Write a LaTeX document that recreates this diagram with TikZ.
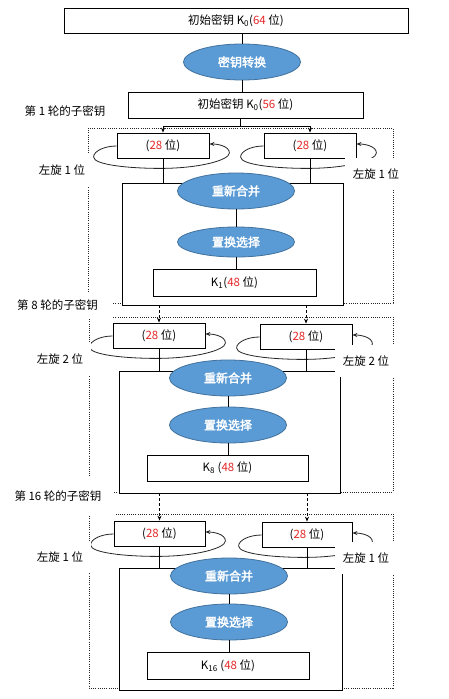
\documentclass[tikz,border=0pt]{standalone}
\usepackage{fontspec}
\setmainfont{Noto Sans CJK SC}[AutoFakeBold=2.5]
\usetikzlibrary{shapes.geometric,arrows.meta,calc}
\definecolor{ellfill}{RGB}{91,155,213}
\definecolor{elldraw}{RGB}{65,113,156}
\definecolor{numred}{RGB}{230,40,40}
\newcommand\rn[1]{\textcolor{numred}{#1}}
\newcommand\rotloop[1]{%
  \draw[loopline] ($(#1.west)+(0,0.5)$) .. controls +(-12,0) and +(0,-6) .. ($(#1.west)+(-23,11.5)$)
    .. controls +(0,8) and +(-30,0) .. ($(#1.south)+(-3,10)$)
    .. controls +(40,0) and +(0,7) .. ($(#1.east)+(20,7.5)$)
    .. controls +(0,-7) and +(8,0) .. ($(#1.east)+(0,-1.5)$);}
\tikzset{
  box/.style={draw=black, line width=0.8pt, fill=white, inner sep=0pt, font=\fontsize{11.5}{13}\selectfont},
  oval/.style={ellipse, fill=ellfill, draw=elldraw, line width=0.8pt, inner sep=0pt,
    minimum width=117pt, minimum height=36pt, text=white, font=\fontsize{12}{14}\selectfont\bfseries},
  frame/.style={line width=0.7pt, dash pattern=on 1pt off 1.2pt, draw=black!85},
  wire/.style={line width=0.8pt, draw=black},
  arr/.style={wire, -{Stealth[length=5pt,width=4pt]}},
  darr/.style={arr, dash pattern=on 3pt off 2pt},
  loopline/.style={line width=0.8pt, draw=black!85, -{Stealth[length=5pt,width=4pt]}},
  rotlabel/.style={fill=white, inner xsep=8pt, inner ysep=0pt, minimum height=32pt, font=\fontsize{11.5}{13}\selectfont},
  roundlabel/.style={fill=white, inner sep=0pt, font=\fontsize{11.5}{13}\selectfont},
}
\begin{document}
\begin{tikzpicture}[x=1pt,y=-1pt]
\useasboundingbox (0,0) rectangle (449,699);
\fill[white] (0,0) rectangle (449,699);

% dotted frames
\draw[frame] (88,128) rectangle (393,303);
\draw[frame] (89,317) rectangle (393,492);
\draw[frame] (89,514) rectangle (393,688);

% top part
\node[box, minimum width=344pt, minimum height=25pt] (k0) at (236,20.5) {初始密钥 K\textsubscript{0}(\rn{64} 位)};
\node[oval] (e0) at (242,62) {密钥转换};
\node[box, minimum width=235pt, minimum height=26pt] (b2) at (245.5,105) {初始密钥 K\textsubscript{0}(\rn{56} 位)};
\node[roundlabel] (t1) at (65,111) {第 1 轮的子密钥};
\draw[wire] (e0.north) -- (e0.north |- k0.south);
\draw[wire] (e0.south) -- (e0.south |- b2.north);

% round 1
\node[box, minimum width=221pt, minimum height=122pt] (ib1) at (232.5,244) {};
\node[box, minimum width=92pt, minimum height=25pt] (r1L) at (163,145.5) {(\rn{28} 位)};
\node[box, minimum width=92pt, minimum height=25pt] (r1R) at (310,145.5) {(\rn{28} 位)};
\coordinate (s1) at (240,126);
\draw[wire] (s1 |- b2.south) -- (s1);
\draw[arr] (s1) -| (r1L.north);
\draw[arr] (s1) -| (r1R.north);
\rotloop{r1L}
\rotloop{r1R}
\draw[wire] (r1L.south) -- (r1L.south |- ib1.north);
\draw[wire] (r1R.south) -- (r1R.south |- ib1.north);
\node[oval] (e1a) at (236,191) {重新合并};
\node[oval, minimum height=30pt] (e1b) at (236,242) {置换选择};
\node[box, minimum width=163pt, minimum height=27pt] (k1) at (234.5,282.5) {K\textsubscript{1}(\rn{48} 位)};
\draw[wire] (e1a.south) -- (e1a.south |- e1b.north);
\draw[wire] (e1b.south) -- (e1b.south |- k1.north);
\node[rotlabel] (l1a) at (62,170) {左旋 1 位};
\node[rotlabel] (l1b) at (376,174) {左旋 1 位};

% round 8
\node[box, minimum width=221pt, minimum height=122pt] (ib8) at (229.5,432) {};
\node[box, minimum width=92pt, minimum height=25pt] (r8L) at (159,335.5) {(\rn{28} 位)};
\node[box, minimum width=92pt, minimum height=25pt] (r8R) at (306,336.5) {(\rn{28} 位)};
\draw[darr] (ib1.south -| r8L.north) -- (r8L.north);
\draw[darr] (ib1.south -| r8R.north) -- (r8R.north);
\rotloop{r8L}
\rotloop{r8R}
\draw[wire] (r8L.south) -- (r8L.south |- ib8.north);
\draw[wire] (r8R.south) -- (r8R.south |- ib8.north);
\node[oval] (e8a) at (228,378) {重新合并};
\node[oval] (e8b) at (228,425) {置换选择};
\node[box, minimum width=161pt, minimum height=26pt] (k8) at (227.5,468) {K\textsubscript{8} (\rn{48} 位)};
\draw[wire] (e8a.south) -- (e8a.south |- e8b.north);
\draw[wire] (e8b.south) -- (e8b.south |- k8.north);
\node[roundlabel, minimum width=111pt, minimum height=27pt] (t8) at (57.5,305) {第 8 轮的子密钥};
\node[rotlabel] (l8a) at (60,359) {左旋 2 位};
\node[rotlabel] (l8b) at (366,361) {左旋 2 位};

% round 16
\node[box, minimum width=223pt, minimum height=122pt] (ib16) at (230.5,629) {};
\node[box, minimum width=91pt, minimum height=25pt] (r16L) at (159.5,533.5) {(\rn{28} 位)};
\node[box, minimum width=90pt, minimum height=25pt] (r16R) at (307,534.5) {(\rn{28} 位)};
\draw[darr] (ib8.south -| r16L.north) -- (r16L.north);
\draw[darr] (ib8.south -| r16R.north) -- (r16R.north);
\rotloop{r16L}
\rotloop{r16R}
\draw[wire] (r16L.south) -- (r16L.south |- ib16.north);
\draw[wire] (r16R.south) -- (r16R.south |- ib16.north);
\node[oval] (e16a) at (229,576) {重新合并};
\node[oval] (e16b) at (229,622) {置换选择};
\node[box, minimum width=162pt, minimum height=27pt] (k16) at (228,665.5) {K\textsubscript{16} (\rn{48} 位)};
\draw[wire] (e16a.south) -- (e16a.south |- e16b.north);
\draw[wire] (e16b.south) -- (e16b.south |- k16.north);
\node[roundlabel, minimum width=112pt, minimum height=38pt] (t16) at (58,496) {第 16 轮的子密钥};
\node[rotlabel] (l16a) at (60,557) {左旋 1 位};
\node[rotlabel] (l16b) at (366,558) {左旋 1 位};
\end{tikzpicture}
\end{document}
